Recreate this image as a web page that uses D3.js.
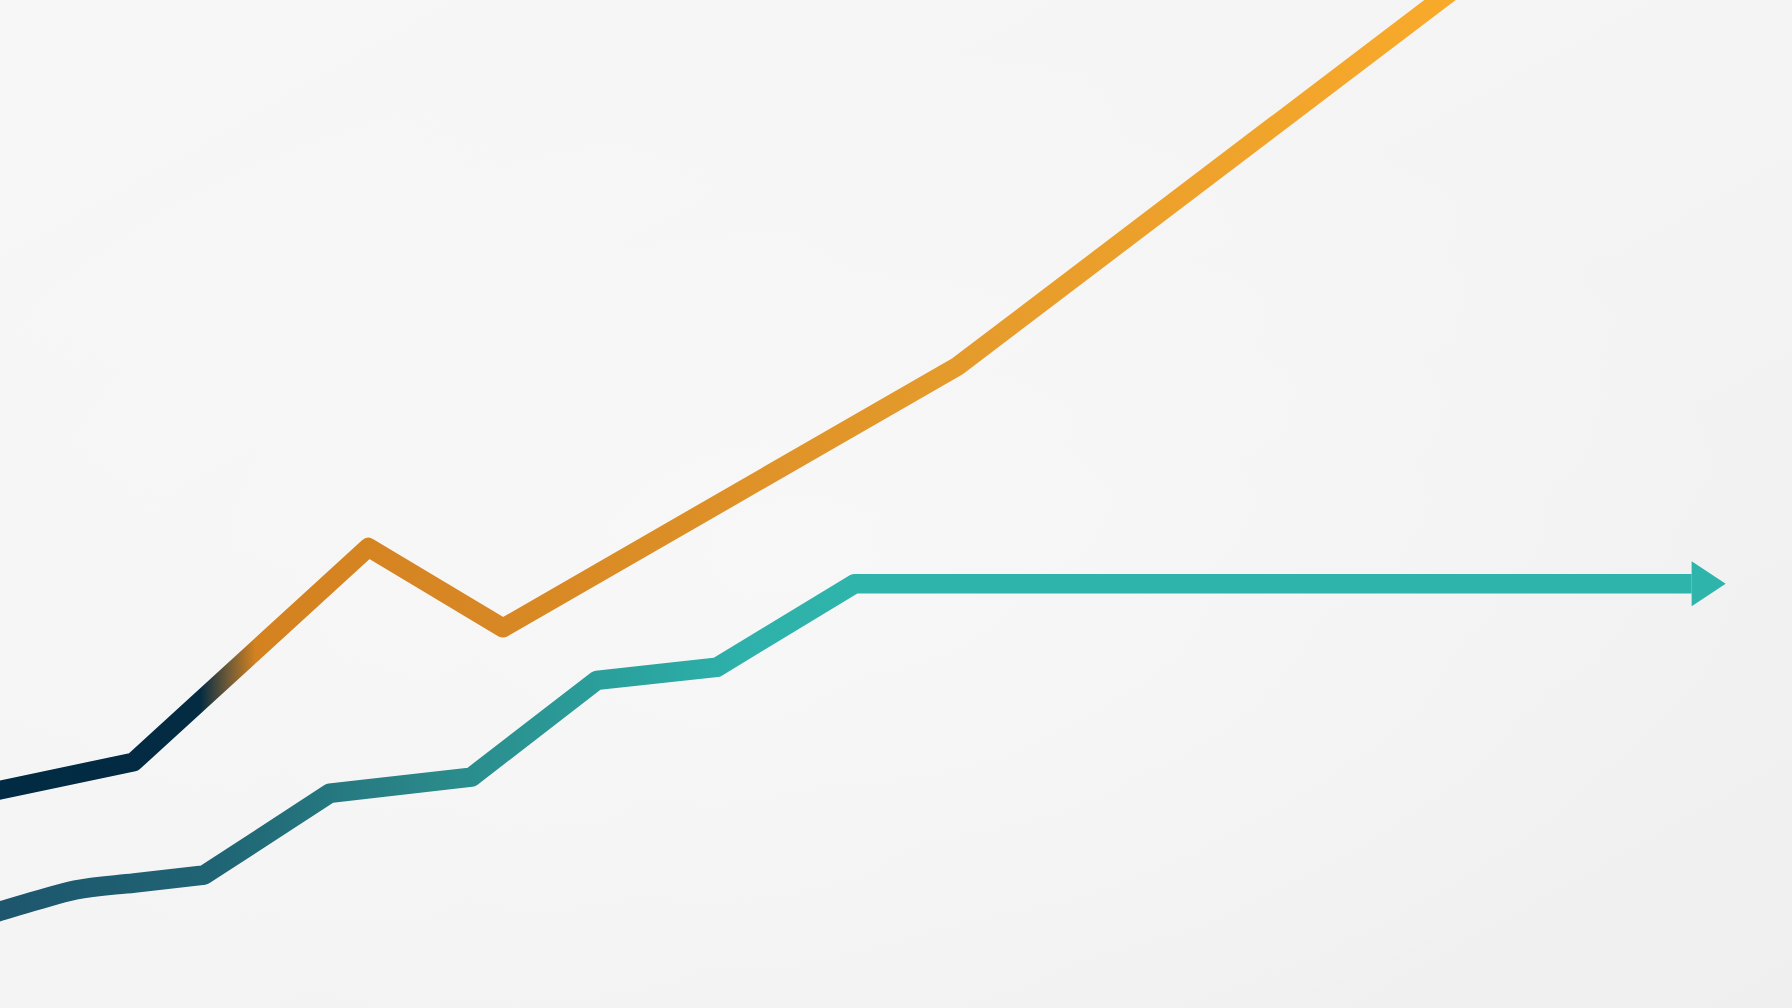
<!DOCTYPE html>
<html>
<head>
<meta charset="utf-8">
<script src="https://cdn.jsdelivr.net/npm/d3@7/dist/d3.min.js"></script>
<style>
html,body{margin:0;padding:0;overflow:hidden;background:#f3f3f3;}
svg{display:block;}
</style>
</head>
<body>
<svg id="chart" width="1792" height="1008"></svg>
<script>
// ---- data (abstract units: x = period 0..100, y = value 0..100) ----
const upperX = [-1.5, 7.45, 20.56, 28.07, 53.46, 81.47];
const upperY = [21.05, 24.4, 45.7, 37.7, 63.7, 101.5];

const lowerX = [-1.5, 0, 2.1, 4.2, 7.5, 11.4, 18.4, 26.3, 33.3, 40.0, 47.7, 94.4];
const lowerY = [8.8, 9.6, 10.7, 11.7, 12.4, 13.2, 21.3, 22.9, 32.5, 33.8, 42.1, 42.1];
const lowerSmoothCount = 6; // first points form a smooth curve

const arrowTipX = 96.3;

const W = 1792, H = 1008;
const svg = d3.select("#chart");
const x = d3.scaleLinear().domain([0, 100]).range([0, W]);
const y = d3.scaleLinear().domain([0, 100]).range([H, 0]);

const defs = svg.append("defs");

// background gradients
const bg = defs.append("linearGradient").attr("id", "bg")
  .attr("x1", "0").attr("y1", "0").attr("x2", "1").attr("y2", "1");
bg.append("stop").attr("offset", "0%").attr("stop-color", "#f7f7f7");
bg.append("stop").attr("offset", "50%").attr("stop-color", "#f4f4f4");
bg.append("stop").attr("offset", "100%").attr("stop-color", "#efeff0");

const glow = defs.append("radialGradient").attr("id", "glow")
  .attr("cx", "0.45").attr("cy", "0.55").attr("r", "0.55");
glow.append("stop").attr("offset", "0%").attr("stop-color", "#fafafa").attr("stop-opacity", 0.6);
glow.append("stop").attr("offset", "100%").attr("stop-color", "#fafafa").attr("stop-opacity", 0);

svg.append("rect").attr("width", W).attr("height", H).attr("fill", "url(#bg)");
svg.append("rect").attr("width", W).attr("height", H).attr("fill", "url(#glow)");

// line gradients
const gUp = defs.append("linearGradient").attr("id", "gUp")
  .attr("gradientUnits", "userSpaceOnUse")
  .attr("x1", 0).attr("y1", 0).attr("x2", 1460).attr("y2", 0);
[[0, "#012a44"], [0.137, "#032b42"], [0.156, "#6e5a38"], [0.175, "#d3821f"],
 [0.345, "#d78723"], [0.66, "#e59b2c"], [1, "#f8aa2a"]]
  .forEach(([o, c]) => gUp.append("stop").attr("offset", o).attr("stop-color", c));

const gLo = defs.append("linearGradient").attr("id", "gLo")
  .attr("gradientUnits", "userSpaceOnUse")
  .attr("x1", 0).attr("y1", 0).attr("x2", 860).attr("y2", 0);
[[0, "#1d566d"], [0.25, "#1f6474"], [0.5, "#2a8889"], [0.72, "#2aa19d"],
 [0.86, "#2db1aa"], [1, "#2fb4ab"]]
  .forEach(([o, c]) => gLo.append("stop").attr("offset", o).attr("stop-color", c));

const line = d3.line().x(d => x(d[0])).y(d => y(d[1])).curve(d3.curveLinear);
const smooth = d3.line().x(d => x(d[0])).y(d => y(d[1])).curve(d3.curveMonotoneX);

const upper = upperX.map((v, i) => [v, upperY[i]]);
const lower = lowerX.map((v, i) => [v, lowerY[i]]);

svg.append("path").datum(upper)
  .attr("d", line)
  .attr("fill", "none")
  .attr("stroke", "url(#gUp)")
  .attr("stroke-width", 19)
  .attr("stroke-linejoin", "round");

const lowerD = smooth(lower.slice(0, lowerSmoothCount)) +
  line(lower.slice(lowerSmoothCount - 1)).replace(/^M/, "L");

svg.append("path")
  .attr("d", lowerD)
  .attr("fill", "none")
  .attr("stroke", "url(#gLo)")
  .attr("stroke-width", 19.5)
  .attr("stroke-linejoin", "round");

// arrowhead at end of lower line
const last = lower[lower.length - 1];
const bx = x(last[0]), by = y(last[1]);
const tx = x(arrowTipX);
svg.append("path")
  .attr("d", `M${bx},${by - 22.5}L${tx},${by}L${bx},${by + 22.5}Z`)
  .attr("fill", "#2fb4ab");
</script>
</body>
</html>
